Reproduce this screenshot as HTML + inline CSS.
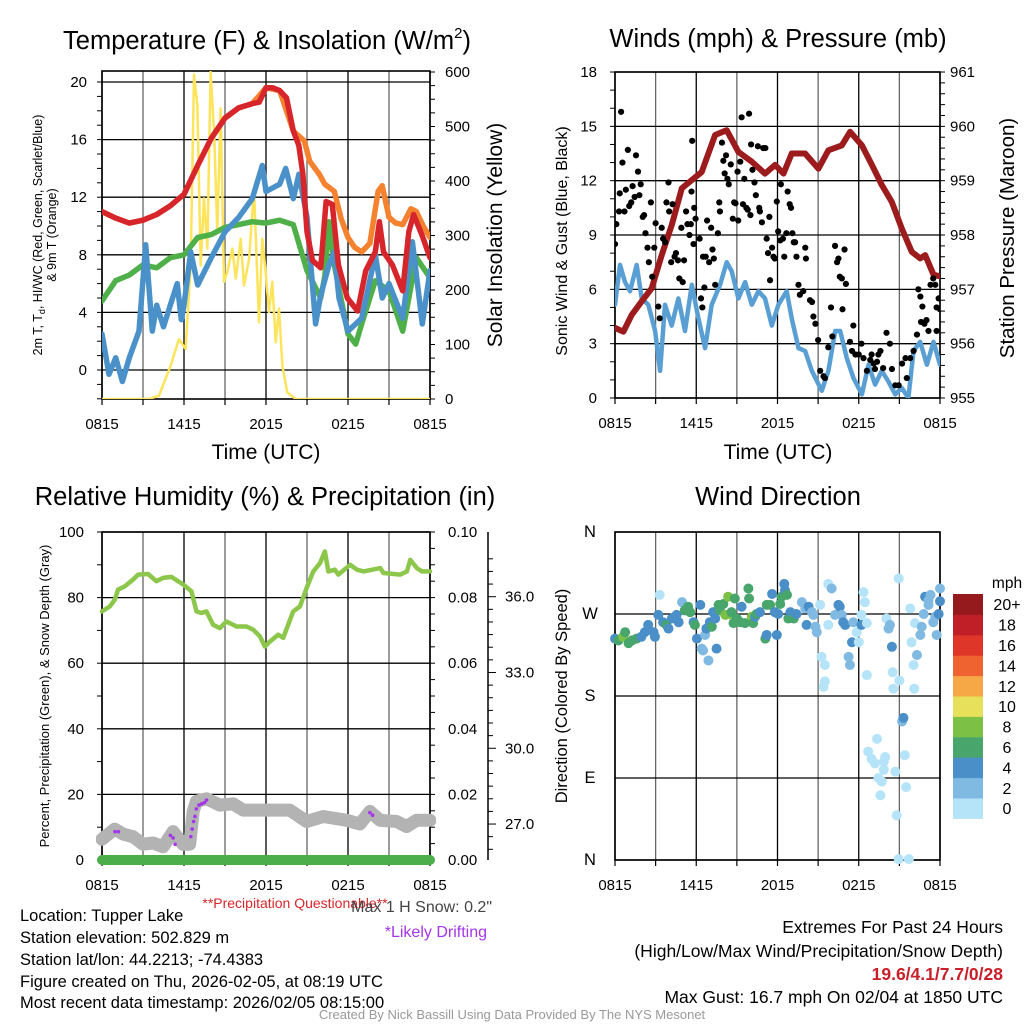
<!DOCTYPE html>
<html><head><meta charset="utf-8">
<style>
html,body{margin:0;padding:0;background:#fff;}
svg{display:block;font-family:"Liberation Sans",Arial,sans-serif;}
</style></head>
<body>
<svg id="fig" width="1024" height="1024" viewBox="0 0 1024 1024" xmlns="http://www.w3.org/2000/svg">
<defs>
<clipPath id="c1"><rect x="102" y="71" width="328" height="328"/></clipPath>
<clipPath id="c2"><rect x="615" y="72" width="325" height="326"/></clipPath>
<clipPath id="c3"><rect x="96" y="526" width="340" height="345"/></clipPath>
<clipPath id="c4"><rect x="609" y="526" width="337" height="340"/></clipPath>
</defs>
<g id="root"></g>
<!-- titles -->
<text x="267" y="49" font-size="25.5" text-anchor="middle">Temperature (F) &amp; Insolation (W/m<tspan font-size="15" dy="-11">2</tspan><tspan dy="11">)</tspan></text>
<text x="778" y="47" font-size="25.5" text-anchor="middle">Winds (mph) &amp; Pressure (mb)</text>
<text x="265" y="505" font-size="25.5" text-anchor="middle">Relative Humidity (%) &amp; Precipitation (in)</text>
<text x="778" y="505" font-size="25.5" text-anchor="middle">Wind Direction</text>
<!-- axis titles -->
<text x="266" y="459" font-size="21" text-anchor="middle">Time (UTC)</text>
<text x="778" y="459" font-size="21" text-anchor="middle">Time (UTC)</text>
<text transform="translate(42,235) rotate(-90)" font-size="12.5" text-anchor="middle">2m T, T<tspan font-size="9" dy="3">d</tspan><tspan dy="-3">, HI/WC (Red, Green, Scarlet/Blue)</tspan></text>
<text transform="translate(56,235) rotate(-90)" font-size="12.5" text-anchor="middle">&amp; 9m T (Orange)</text>
<text transform="translate(502,235) rotate(-90)" font-size="21" text-anchor="middle">Solar Insolation (Yellow)</text>
<text transform="translate(567,241) rotate(-90)" font-size="16" text-anchor="middle">Sonic Wind &amp; Gust (Blue, Black)</text>
<text transform="translate(1014,238) rotate(-90)" font-size="20.5" text-anchor="middle">Station Pressure (Maroon)</text>
<text transform="translate(49,696) rotate(-90)" font-size="13" text-anchor="middle">Percent, Precipitation (Green), &amp; Snow Depth (Gray)</text>
<text transform="translate(567,696) rotate(-90)" font-size="16.5" text-anchor="middle">Direction (Colored By Speed)</text>
<!-- footer -->
<text x="295" y="908" font-size="14" fill="#d7262b" text-anchor="middle">**Precipitation Questionable**</text>
<text x="492" y="912" font-size="16" fill="#444" text-anchor="end">Max 1 H Snow: 0.2"</text>
<text x="487" y="937" font-size="16" fill="#a435e8" text-anchor="end">*Likely Drifting</text>
<g font-size="16.5">
<text x="20" y="921">Location: Tupper Lake</text>
<text x="20" y="943">Station elevation: 502.829 m</text>
<text x="20" y="965">Station lat/lon: 44.2213; -74.4383</text>
<text x="20" y="987">Figure created on Thu, 2026-02-05, at 08:19 UTC</text>
<text x="20" y="1008">Most recent data timestamp: 2026/02/05 08:15:00</text>
</g>
<g font-size="17.5" text-anchor="end">
<text x="1003" y="933">Extremes For Past 24 Hours</text>
<text x="1003" y="957">(High/Low/Max Wind/Precipitation/Snow Depth)</text>
<text x="1003" y="980" fill="#c8202a" font-weight="bold">19.6/4.1/7.7/0/28</text>
<text x="1003" y="1003">Max Gust: 16.7 mph On 02/04 at 1850 UTC</text>
</g>
<text x="512" y="1019" font-size="13" fill="#999" text-anchor="middle">Created By Nick Bassill Using Data Provided By The NYS Mesonet</text>
</svg>
<script>
// ===== DATA =====
const timeLabels = ["0815","1415","2015","0215","0815"];
const timeLabelHours = [0,6,12,18,24];
// Panel 1
const tempTicks = [0,4,8,12,16,20];
const insolTicks = [0,100,200,300,400,500,600];
const redHours = [0,1,2,3,4,5,6,7,8,8.5,9,10,11,11.5,12,12.5,13,13.5,14,14.4,14.7,15,15.4,16,16.4,16.85,17.3,17.95,18.7,19.3,20,20.3,20.6,21.25,22,22.45,22.8,23.4,24];
const redTemp = [11.0,10.55,10.2,10.4,10.8,11.4,12.2,14.2,16.1,16.8,17.5,18.2,18.5,18.6,19.6,19.6,19.4,18.9,16.6,15.6,13.6,9.6,7.6,7.1,11.7,11.5,7.3,5.0,4.1,6.9,8.2,10.3,8.2,7.3,5.5,9.6,10.8,9.4,7.8];
const orangeHours = [0,1,2,3,4,5,6,7,8,9,10,11,12,13,14,14.8,15.2,15.9,16.3,17,17.5,18,18.5,19,19.6,20.2,20.5,21,21.5,22,22.6,23,23.5,24];
const orangeTemp = [11.0,10.55,10.2,10.4,10.8,11.4,12.2,14.2,16.1,17.5,18.2,18.5,19.6,19.4,16.6,15.9,14.5,13.6,12.9,12.4,10.5,9.2,8.5,8.2,8.8,12.4,12.8,10.6,10.2,10.1,11.2,11.0,10.0,9.2];
const greenHours = [0,1,2,3,4,5,6,7,8,9,10,11,12,13,14,15,16,16.3,16.6,17,18,18.56,19,20,21,22,23,24];
const greenTemp = [4.8,6.2,6.6,7.3,7.1,7.8,8.0,9.2,9.4,9.9,10.1,10.3,10.2,10.4,10.1,6.9,5.0,6.5,10.3,7.3,2.5,1.8,3.2,6.2,5.5,2.7,7.8,6.4];
const blueHours = [0,0.51,1,1.49,2,2.71,3.2,3.68,4,4.5,5,5.5,5.8,6,6.49,7,8,9,10,11,11.73,12,13,13.44,14,14.41,15,15.63,16,16.61,17,17.34,18,19,20,20.51,21,22,22.71,23.44,24];
const blueTemp = [2.5,-0.3,0.85,-0.8,0.85,2.7,8.7,2.7,4.5,3.0,4.5,6.0,3.5,4.5,8.2,5.9,7.8,9.6,10.6,11.9,14.2,12.4,12.9,14.0,11.9,13.6,10.6,3.2,5.2,7.3,8.2,5.0,2.7,3.6,8.0,5.0,6.0,3.6,8.9,3.2,6.9];
const insolHours = [0,3.44,4.17,5.02,5.63,6.12,6.49,6.73,6.98,7.22,7.46,7.71,7.95,8.2,8.44,8.68,8.93,9.17,9.54,9.78,10.15,10.39,10.76,11.12,11.49,11.73,11.98,12.22,12.46,12.71,12.95,13.2,13.56,14.17,24];
const insolW = [0,0,6,61,110,92,245,595,539,245,368,276,600,490,306,533,215,233,276,221,294,208,257,386,141,294,233,159,215,104,166,61,12,0,0];
// Panel 2
const windTicks = [0,3,6,9,12,15,18];
const presTicks = [955,956,957,958,959,960,961];
const sonicHours = [0,0.37,0.74,1.11,1.6,1.97,2.46,2.96,3.33,3.69,4.19,4.68,5.17,5.67,6.16,6.65,7.14,7.76,8.25,8.62,9.11,9.61,10.1,10.59,11.08,11.58,12.07,12.68,13.05,13.55,14.04,14.53,15.27,15.76,16.26,16.63,17.12,17.61,18.23,18.72,19.21,19.7,20.2,20.69,21.18,21.67,22.04,22.54,23.03,23.52,24];
const sonicMph = [5.15,7.35,6.4,5.9,7.35,5.5,5.15,3.7,1.5,5.15,4.0,5.5,3.7,6.25,4.4,2.75,5.15,6.25,7.5,7.0,5.5,6.4,5.15,5.9,5.5,4.0,5.15,5.9,4.4,2.75,2.6,1.5,0.4,1.5,3.7,3.7,2.2,1.1,0.2,1.84,0.74,1.5,0.9,0.2,0.55,0,2.6,3.1,1.84,3.1,1.84];
const presHours = [0,0.62,1.23,1.97,2.71,3.45,4.19,4.93,5.67,6.4,7.39,8.25,9.11,10.1,11.08,11.82,12.44,13.05,14.04,15.02,15.76,16.75,17.36,18.23,18.97,19.7,20.44,21.18,21.92,22.54,22.91,23.52,24];
const presMb = [956.29,956.22,956.53,956.78,957.02,957.63,958.18,958.86,959.01,959.16,959.84,959.93,959.53,959.35,959.13,959.29,959.13,959.5,959.5,959.22,959.56,959.65,959.9,959.65,959.29,958.92,958.61,958.12,957.69,957.57,957.63,957.27,957.24];
const gustHours = [0,0.1,0.3,0.45,0.35,0.55,0.7,0.8,0.95,1.05,1.2,1.3,1.45,1.55,1.7,1.8,1.9,2.05,2.15,2.25,2.4,2.5,2.65,2.75,2.9,3.0,3.2,3.3,3.45,3.55,3.7,3.8,3.95,4.0,4.15,4.25,4.4,4.5,4.65,4.75,4.9,5.0,5.1,5.25,5.35,5.5,5.6,5.7,5.65,5.8,5.85,5.95,6.25,6.35,6.45,6.5,6.6,6.7,6.8,6.95,7.1,7.2,7.3,7.4,7.6,7.7,7.75,7.9,8.0,8.1,8.2,8.3,8.4,8.55,8.7,8.8,8.9,9.05,9.1,9.25,9.35,9.45,9.55,9.7,9.8,9.9,10.0,10.05,10.15,10.3,10.4,10.55,10.65,10.7,10.85,10.95,11.1,11.2,11.3,11.4,11.45,11.6,11.7,11.8,11.95,12.05,12.2,12.25,12.4,12.5,12.65,12.75,12.9,13.0,13.1,13.2,13.3,13.4,13.55,13.65,13.9,14.05,14.1,14.4,14.55,14.65,14.8,15.0,15.15,15.4,15.5,15.75,15.95,16.05,16.25,16.4,16.5,16.6,16.75,16.8,16.95,17.05,17.35,17.5,17.6,17.75,18.0,18.2,18.35,18.6,18.85,18.95,19.1,19.2,19.35,19.45,19.6,19.8,20.05,20.3,20.45,20.7,20.95,21.2,21.45,21.55,21.8,22.05,22.3,22.4,22.55,22.7,22.85,23.0,23.15,23.3,23.5,23.65,23.75,23.9,24.0,23.75,22.6];
const gustMph = [8.5,9.6,10.3,15.8,11.3,13.0,10.3,11.5,13.7,10.6,10.8,11.7,11.1,13.4,12.5,11.2,11.8,10.0,10.1,9.1,8.3,7.5,10.8,6.7,8.3,9.65,5.05,4.4,9.4,8.8,8.6,10.8,11.9,10.3,7.5,10.7,7.8,8.0,7.6,6.6,9.4,6.4,7.6,10.3,9.6,9.0,9.6,14.2,11.4,8.5,10.5,9.9,8.8,5.5,5.0,7.8,6.1,7.8,9.8,7.5,9.4,8.2,7.7,6.25,9.1,10.8,10.3,14.1,13.1,12.4,13.4,12.1,11.8,12.9,9.9,10.8,10.75,12.5,9.8,13.05,15.5,10.7,12.1,10.5,10.4,15.7,10.1,14.0,12.6,11.9,11.2,13.9,10.5,10.3,9.7,13.8,13.8,8.8,8.0,10.0,6.5,8.3,7.8,7.7,10.85,9.2,8.7,11.8,8.8,7.8,9.1,11.4,10.7,10.5,9.1,8.6,8.6,7.8,6.25,5.7,5.9,8.3,7.7,5.4,5.3,4.5,4.1,3.2,1.5,1.2,1.1,2.8,5.0,3.4,8.4,7.5,7.7,6.7,6.6,4.9,8.2,6.3,3.1,2.6,4.0,2.4,2.4,3.0,2.2,1.5,2.1,2.4,1.9,1.6,2.0,2.4,2.6,1.65,3.6,3.0,1.6,0.7,0.7,1.9,2.2,1.1,2.2,2.6,3.5,6.0,5.6,5.05,4.1,4.3,3.7,6.25,6.6,6.25,5.0,5.5,4.9,3.7,4.2];
// Panel 3
const rhTicks = [0,20,40,60,80,100];
const precipTicks = ["0.00","0.02","0.04","0.06","0.08","0.10"];
const precipTickVals = [0,0.02,0.04,0.06,0.08,0.10];
const snowTicks = [27,30,33,36];
const rhHours = [0,0.56,0.93,1.17,1.66,2.27,2.64,3.37,3.98,4.47,5.08,5.94,6.55,6.91,7.28,7.64,8.13,8.62,9.11,9.84,10.57,11.06,11.55,11.91,12.28,12.89,13.26,13.99,14.48,14.97,15.46,15.95,16.31,16.56,17.04,17.29,18.16,18.65,19.14,20.36,20.6,21.82,22.31,22.56,23.04,23.41,24];
const rhPct = [75.8,77.3,79.3,82.4,83.4,85.5,87,87.2,85,86,86.3,84,81.9,75.8,75.3,75.8,71.7,70.7,72.7,71.2,71.2,70.2,68.2,65.1,66.6,68.7,67.7,75.8,77.3,82.9,88,90.5,94.1,88,88.5,87,90,88.5,88,89,87.5,87,88,91.5,89,88,88];
const precipHours = [0,24];
const precipIn = [0,0];
const snowHours = [0,0.93,1.54,2.27,3.0,3.74,4.47,5.2,5.93,6.42,6.67,6.91,7.64,8.62,9.59,10.33,11.79,13.74,14.97,16.19,17.9,18.87,19.6,20.34,21.56,22.29,23.02,24];
const snowDepth = [26.4,26.8,26.6,26.5,26.2,26.25,26.1,26.7,26.2,26.2,27.5,27.9,28.0,27.75,27.8,27.55,27.55,27.55,27.1,27.3,27.15,27.0,27.5,27.15,27.1,26.9,27.15,27.15];
const driftHours = [0.95,1.2,5.0,5.2,5.35,6.5,6.6,6.7,6.8,6.9,7.1,7.3,7.5,7.65,19.6,19.8];
const driftDepth = [26.7,26.7,26.55,26.45,26.2,26.5,26.8,27.1,27.3,27.6,27.75,27.8,27.85,27.95,27.45,27.35];
// Panel 4
const dirTickLabels = ["N","E","S","W","N"];
const dirTickDeg = [0,90,180,270,360];
const speedBins = ["0","2","4","6","8","10","12","14","16","18","20+"];
const speedColors = ["#b5e3f8","#80b9e2","#4a8fc7","#48a56c","#7cc045","#e6e05a","#f6a847","#ef6330","#de3628","#c01f27","#951a1d"];
const dirHours = [0.0,0.25,0.6,0.75,1.0,1.25,1.6,1.95,2.2,2.45,2.85,2.95,3.2,3.3,3.55,3.8,3.95,4.2,4.55,4.7,4.95,5.15,5.4,5.55,5.8,5.9,6.05,6.3,6.4,6.5,6.65,6.75,6.9,7.0,7.15,7.25,7.4,7.5,7.65,7.75,8.0,8.15,8.35,8.5,8.6,8.75,8.85,9.0,9.25,9.35,9.6,9.85,9.9,10.1,10.2,10.35,10.45,10.7,11.1,11.2,11.2,11.45,11.6,11.8,11.95,12.05,12.2,12.3,12.5,12.55,12.7,12.8,12.95,13.2,13.4,13.8,14.05,14.15,14.3,14.55,14.65,14.8,14.9,15.15,15.25,15.5,15.5,15.4,15.75,15.75,16.0,16.25,16.5,16.6,16.75,16.85,17.0,17.25,17.35,17.5,17.6,17.85,18.0,18.2,18.35,18.45,18.2,18.6,18.6,18.7,18.95,19.2,19.35,19.45,19.7,19.85,19.95,19.85,19.6,20.05,20.2,20.3,20.45,20.5,20.55,20.7,20.8,20.95,21.0,21.2,21.3,21.4,21.5,21.7,20.95,21.8,21.9,22.05,22.1,22.15,22.3,22.55,22.65,22.8,22.9,23.15,23.3,23.5,23.65,23.75,23.9,24.0,24.0,23.15];
const dirDeg = [243,241,245,250,238,241,243,245,250,258,250,245,269,291,261,258,254,265,269,261,283,274,278,272,261,258,243,280,232,230,247,254,219,261,256,272,265,232,280,274,281,269,289,270,272,260,287,265,261,278,260,298,287,267,260,267,270,272,243,247,280,280,292,272,247,270,281,289,303,296,291,265,272,265,270,283,276,258,278,272,269,256,250,280,223,214,196,190,258,303,298,269,280,278,269,261,258,223,214,239,261,250,239,258,294,283,269,260,203,119,111,106,133,90,86,108,113,99,71,265,254,258,234,206,188,97,49,309,197,152,156,115,80,1,1,276,239,214,188,260,225,247,256,270,289,285,291,261,267,247,270,298,284,280];
const dirSpeed = [5,7,9,7,7,7,7,5,5,5,5,5,5,1,5,7,5,5,5,5,3,7,7,7,5,7,5,5,3,3,3,5,3,5,7,5,5,5,7,7,7,9,9,9,7,7,7,7,7,5,7,7,7,9,7,5,7,5,7,5,7,7,5,5,5,5,7,7,5,5,7,7,5,7,5,3,3,5,5,3,3,3,3,1,1,1,1,1,1,1,3,3,5,5,3,5,5,3,3,5,3,1,1,5,1,1,1,1,1,1,1,1,1,1,1,1,1,1,1,1,3,3,5,1,1,1,1,1,1,3,5,1,1,1,1,1,1,1,1,1,3,3,3,3,5,3,3,3,3,3,5,3,5,3,3];

// ===== SCALES =====
const NS = "http://www.w3.org/2000/svg";
const root = document.getElementById('root');
function mk(tag, attrs, parent){ const e=document.createElementNS(NS,tag); for(const k in attrs) e.setAttribute(k,attrs[k]); (parent||root).appendChild(e); return e; }
const P1={x0:102,x1:430,y0:71,y1:399}, P2={x0:615,x1:940,y0:72,y1:398}, P3={x0:102,x1:430,y0:532,y1:860}, P4={x0:615,x1:940,y0:532,y1:860};
const xT = (P,h) => P.x0 + h/24*(P.x1-P.x0);
const yTemp = v => 370 - v*14.4;
const yInsol = v => 399 - v*0.545;
const yWind = v => 398 - v*18.11;
const yPres = v => 398 - (v-955)*54.33;
const yRH = v => 860 - v*3.28;
const yPrecip = v => 860 - v*3280;
const ySnow = v => 596.7 + (36-v)*25.26;
const yDir = v => 860 - v*328/360;

function pathFrom(P, hrs, vals, yf){ let d=''; for(let i=0;i<hrs.length;i++){ d += (i?'L':'M') + xT(P,hrs[i]).toFixed(1)+','+yf(vals[i]).toFixed(1);} return d; }

function gridAndFrame(P, yVals, yf, name){
  const g = mk('g',{});
  
  
  for(let h=0;h<=24;h+=3){ const x=xT(P,h); mk('line',{x1:x,x2:x,y1:P.y0,y2:P.y1,stroke:(h%6==0)?'#000':'#666','stroke-width':1.3},g); mk('line',{x1:x,x2:x,y1:P.y1,y2:P.y1+6,stroke:'#000','stroke-width':1.2},g); }
  yVals.forEach(v=>{ const y=yf(v); mk('line',{x1:P.x0,x2:P.x1,y1:y,y2:y,stroke:'#000','stroke-width':1.3},g); });
  mk('rect',{x:P.x0,y:P.y0,width:P.x1-P.x0,height:P.y1-P.y0,fill:'none',stroke:'#000','stroke-width':1.6},g);
  timeLabels.forEach((t,i)=>{ const tx=mk('text',{x:xT(P,timeLabelHours[i]),y:P.y1+30,'font-size':15,'text-anchor':'middle'},g); tx.textContent=t; });
}
function yLabels(vals, labels, yf, x, anchor, name, fs){
  const g=mk('g',{});
  
  
  vals.forEach((v,i)=>{ const t=mk('text',{x:x,y:yf(v)+5,'font-size':fs||15,'text-anchor':anchor},g); t.textContent=labels[i]; });
  return g;
}
function ticks(x, y0v, y1v, step, yf, len){ const g=mk('g',{}); for(let v=y0v; v<=y1v+1e-9; v+=step){ const y=yf(v); mk('line',{x1:x,x2:x+len,y1:y,y2:y,stroke:'#000','stroke-width':1},g);} return g; }
function line(P, hrs, vals, yf, color, w, clip, name){
  const p=mk('path',{d:pathFrom(P,hrs,vals,yf),fill:'none',stroke:color,'stroke-width':w,'stroke-linejoin':'round','stroke-linecap':'round','clip-path':'url(#'+clip+')'});
  
  
  return p;
}

// ===== PANEL 1 =====
gridAndFrame(P1, tempTicks, yTemp, 'temperature-panel');
ticks(P1.x0-5,-2,20,1,yTemp,5);
ticks(P1.x1,0,600,25,yInsol,5);
yLabels(tempTicks, tempTicks.map(String), yTemp, 87, 'end', 'temperature-y-ticks');
yLabels(insolTicks, insolTicks.map(String), yInsol, 445, 'start', 'insolation-y-ticks');
line(P1, insolHours, insolW, yInsol, '#fde45c', 2.5, 'c1', 'insolation-line');
line(P1, orangeHours, orangeTemp, yTemp, '#f4822f', 5.5, 'c1', 'temp-9m-line');
line(P1, greenHours, greenTemp, yTemp, '#4fb04a', 5.5, 'c1', 'dewpoint-line');
line(P1, blueHours, blueTemp, yTemp, '#4a91c9', 5.5, 'c1', 'windchill-line');
line(P1, redHours, redTemp, yTemp, '#d7262b', 5.5, 'c1', 'temp-2m-line');

// ===== PANEL 2 =====
gridAndFrame(P2, windTicks, yWind, 'winds-panel');
ticks(P2.x0-5,0,18,1,yWind,5);
ticks(P2.x1,955,961,0.2,yPres,5);
yLabels(windTicks, windTicks.map(String), yWind, 597, 'end', 'wind-y-ticks');
yLabels(presTicks, presTicks.map(String), yPres, 950, 'start', 'pressure-y-ticks');
line(P2, sonicHours, sonicMph, yWind, '#5a9fd4', 4.5, 'c2', 'sonic-wind-line');
line(P2, presHours, presMb, yPres, '#9c1b1d', 6, 'c2', 'pressure-line');
const gustG = mk('g',{'clip-path':'url(#c2)'});


gustHours.forEach((h,i)=>{
  const c=mk('circle',{cx:xT(P2,h),cy:yWind(gustMph[i]),r:3.1,fill:'#000'},gustG);
  
  
});

// ===== PANEL 3 =====
gridAndFrame(P3, rhTicks, yRH, 'humidity-panel');
ticks(P3.x0-5,0,100,10,yRH,5);
ticks(P3.x1,0,0.1,0.005,yPrecip,5);
yLabels(rhTicks, rhTicks.map(String), yRH, 84, 'end', 'rh-y-ticks');
yLabels(precipTickVals, precipTicks, yPrecip, 448, 'start', 'precip-y-ticks');
const snowAx = mk('line',{x1:488,x2:488,y1:532,y2:860,stroke:'#000','stroke-width':1.5});


for(let v=24.5; v<=37.5; v+=0.5){ const y=ySnow(v); if(y>=532&&y<=860) mk('line',{x1:488,x2:v%3==0?496:493,y1:y,y2:y,stroke:'#000','stroke-width':1}); }
yLabels(snowTicks, snowTicks.map(v=>v.toFixed(1)), ySnow, 505, 'start', 'snow-y-ticks');
line(P3, rhHours, rhPct, yRH, '#8cc64a', 4.5, 'c3', 'rh-line');
line(P3, snowHours, snowDepth, ySnow, '#b3b3b3', 13, 'c3', 'snow-depth-line');
line(P3, precipHours, precipIn, yPrecip, '#4cae4a', 10, 'c3', 'precip-line');
const driftG=mk('g',{});


driftHours.forEach((h,i)=>{
  const c=mk('circle',{cx:xT(P3,h),cy:ySnow(driftDepth[i]),r:1.8,fill:'#a435e8'},driftG);
  
  
});

// ===== PANEL 4 =====
gridAndFrame(P4, dirTickDeg, yDir, 'direction-panel');
yLabels(dirTickDeg, dirTickLabels, yDir, 590, 'middle', 'direction-y-ticks', 16.5);
const dirG=mk('g',{'clip-path':'url(#c4)'});


dirHours.forEach((h,i)=>{
  const idx=Math.min(10,Math.floor(dirSpeed[i]/2));
  const c=mk('circle',{cx:xT(P4,h),cy:yDir(dirDeg[i]),r:5,fill:speedColors[idx]},dirG);
  
  
});
// colorbar
const cb=mk('g',{});


const cbTop=594, cbH=20.4;
speedBins.forEach((lab,i)=>{
  const y=cbTop+(10-i)*cbH;
  const r=mk('rect',{x:953,y:y,width:30,height:cbH+0.5,fill:speedColors[i]},cb);
  
  
  const t=mk('text',{x:1007,y:y+cbH/2+6,'font-size':16,'text-anchor':'middle'},cb); t.textContent=lab;
});
const mphT=mk('text',{x:1007,y:588,'font-size':15.5,'text-anchor':'middle'},cb); mphT.textContent='mph';
</script>
</body></html>
